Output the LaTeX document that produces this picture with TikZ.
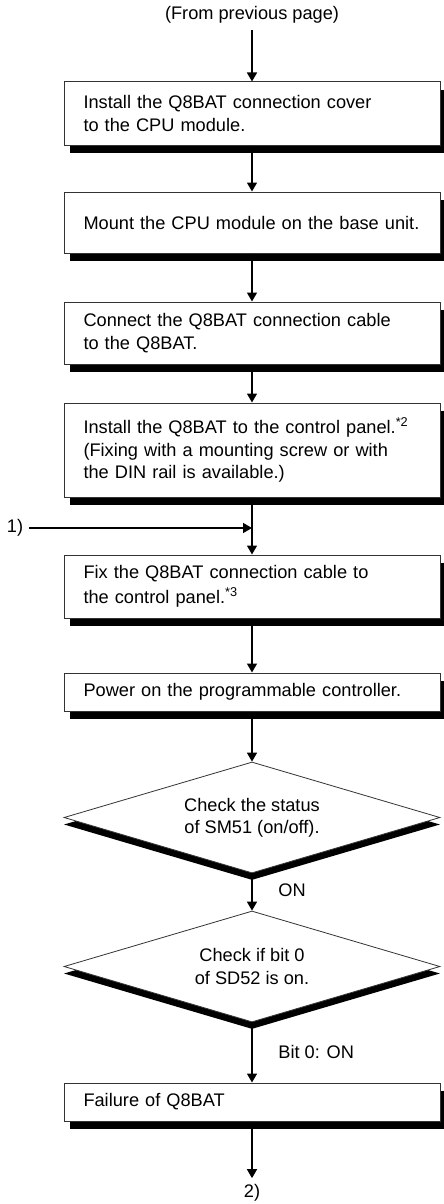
\documentclass[tikz,border=0pt]{standalone}
\usepackage{fontspec}
\setmainfont{Liberation Sans}
\usetikzlibrary{positioning, arrows.meta, shapes.geometric, shadows}

\begin{document}
\begin{tikzpicture}[
  x=0.5pt, y=-0.5pt,
  every node/.style={font=\fontsize{9.1}{11.2}\selectfont},
  stepbox/.style={draw=black!80, line width=0.5pt, fill=white, minimum width=188pt,
                  text width=168.5pt, inner xsep=9.75pt, inner ysep=0pt, align=left,
                  drop shadow={shadow xshift=3pt, shadow yshift=-4pt, fill=black, opacity=1}},
  check/.style={diamond, aspect=3.4, draw=black!80, line width=0.4pt, fill=white,
                minimum width=188pt, minimum height=55.5pt, inner sep=0pt, align=center,
                drop shadow={shadow xshift=0pt, shadow yshift=-3.5pt, fill=black, opacity=1}},
  lbl/.style={inner sep=3pt},
  flow/.style={-{Triangle[length=4.5pt, width=5pt]}, line width=0.8pt},
]
  \useasboundingbox (0,0) rectangle (444,1204);

  % Entry
  \node[lbl] (from) at (252,15) {(From previous page)};

  % Mounting steps
  \node[stepbox, minimum height=31.5pt] (b1) at (252,113.5) {Install the Q8BAT connection cover\\to the CPU module.};
  \node[stepbox, minimum height=30.5pt] (b2) at (252,222.5) {Mount the CPU module on the base unit.};
  \node[stepbox, minimum height=31pt]   (b3) at (252,333)   {Connect the Q8BAT connection cable\\to the Q8BAT.};
  \node[stepbox, minimum height=47pt]   (b4) at (252,450)   {Install the Q8BAT to the control panel.\textsuperscript{*2}\\(Fixing with a mounting screw or with\\the DIN rail is available.)};
  \draw[flow] (from) -- (b1);
  \draw[flow] (b1) -- (b2);
  \draw[flow] (b2) -- (b3);
  \draw[flow] (b3) -- (b4);

  % Side entry 1)
  \node[lbl] (in1) at (15,528) {1)};
  \coordinate (j1) at (252,528);

  \node[stepbox, minimum height=31.5pt] (b5) at (252,586.5) {Fix the Q8BAT connection cable to\\[1.5pt]the control panel.\textsuperscript{*3}};
  \node[stepbox, minimum height=19pt]   (b6) at (252,692)   {Power on the programmable controller.};
  \draw[flow] (b4) -- (b5);
  \draw[flow] (in1) -- (j1);
  \draw[flow] (b5) -- (b6);

  % Checks
  \node[check] (d1) at (252,817.5) {Check the status\\of SM51 (on/off).};
  \node[lbl, anchor=west] (on1) at (272,890) {ON};
  \node[check] (d2) at (252,966.5) {Check if bit 0\\of SD52 is on.};
  \node[lbl, anchor=west] (on2) at (272,1052) {Bit 0: ON};
  \draw[flow] (b6) -- (d1);
  \draw[flow] (d1) -- (d2);

  % Result
  \node[stepbox, minimum height=19pt] (b7) at (252,1102) {Failure of Q8BAT};
  \node[lbl] (out2) at (252,1193) {2)};
  \draw[flow] (d2) -- (b7);
  \draw[flow] (b7) -- (out2);

\end{tikzpicture}
\end{document}
